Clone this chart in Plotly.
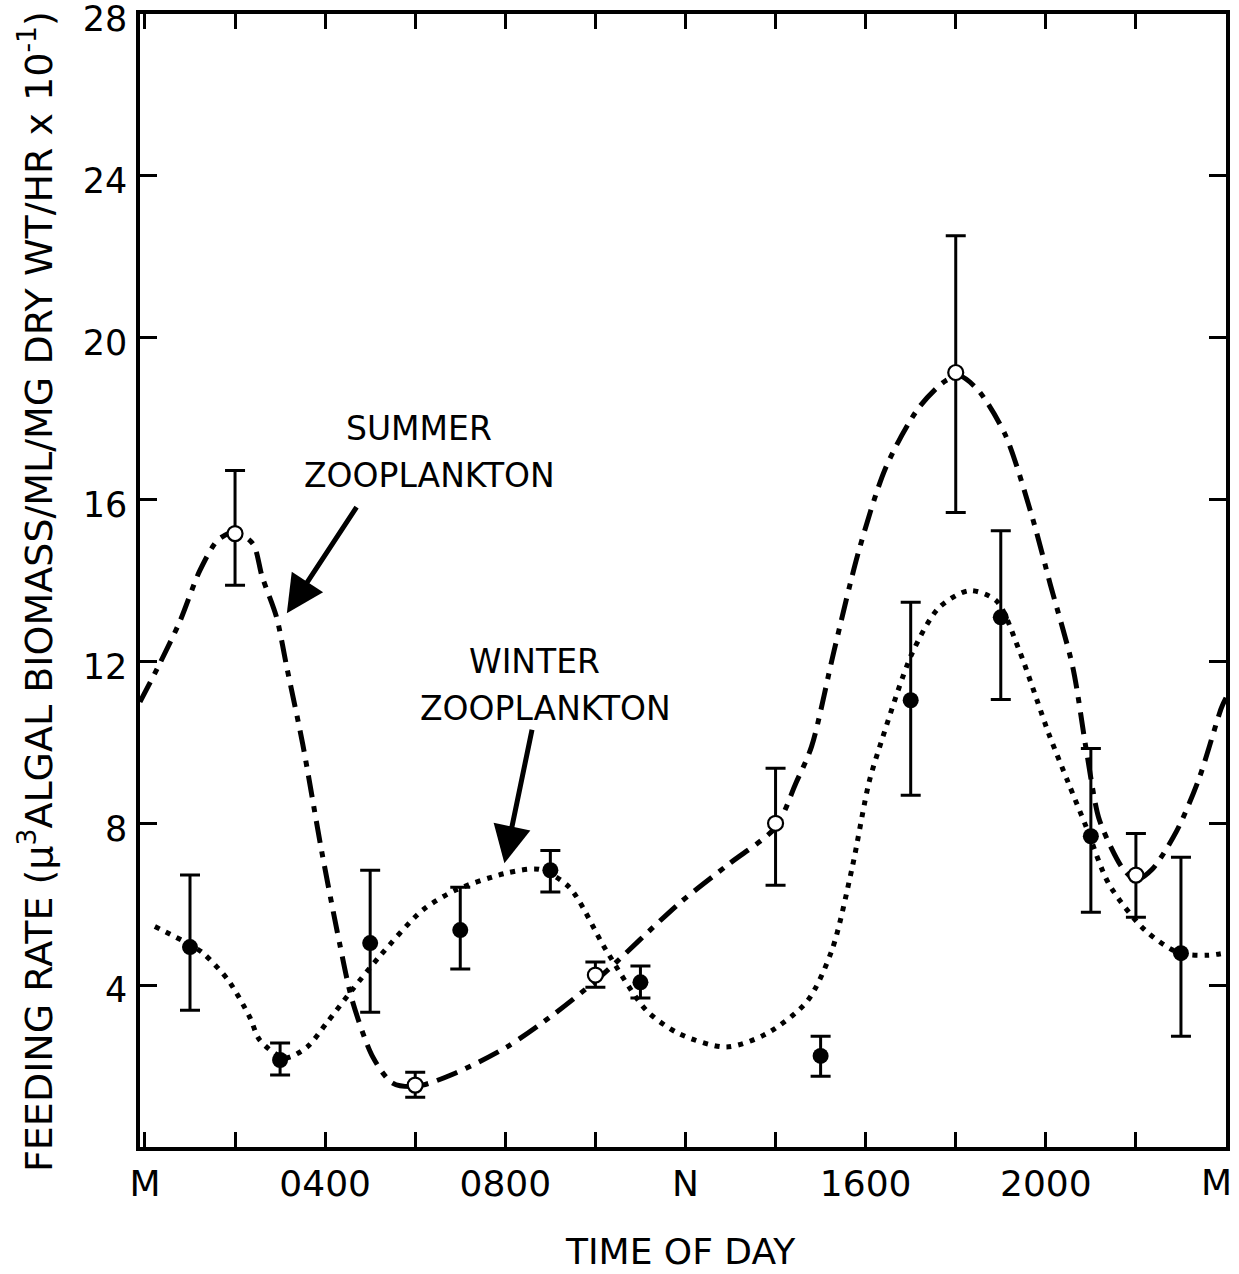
import plotly.graph_objects as go

# Hour of day for each sample
winter_hours = [1, 3, 5, 7, 9, 11, 15, 17, 19, 21, 23]
winter_rate = [4.94, 2.15, 5.04, 5.36, 6.84, 4.07, 2.25, 11.04, 13.09, 7.68, 4.79]
winter_hi = [6.72, 2.57, 6.84, 6.42, 7.33, 4.47, 2.74, 13.46, 15.23, 9.85, 7.16]
winter_lo = [3.38, 1.78, 3.33, 4.40, 6.30, 3.68, 1.75, 8.69, 11.06, 5.80, 2.74]

summer_hours = [2, 6, 10, 14, 18, 22]
summer_rate = [15.16, 1.53, 4.25, 8.00, 19.14, 6.72]
summer_hi = [16.72, 1.85, 4.57, 9.36, 22.52, 7.75]
summer_lo = [13.88, 1.23, 3.95, 6.47, 15.68, 5.68]

# Hand-fitted trend curves
summer_curve_x = [-0.11, 0.33, 0.78, 1.22, 1.62, 2.0, 2.4, 2.6, 2.92, 3.15, 3.5, 3.92, 4.32, 4.6,
                  5.06, 5.5, 6.03, 6.9, 8.03, 9.1, 10.1, 11.86, 12.97, 14.0, 14.45, 14.8, 15.3,
                  15.85, 16.45, 17.18, 17.78, 18.1, 18.5, 19.1, 19.7, 20.1, 20.6, 20.9, 21.17,
                  21.45, 21.7, 22.0, 22.35, 22.9, 23.4, 23.9, 24.0]
summer_curve_y = [11.0, 11.95, 13.0, 14.25, 15.0, 15.2, 14.9, 14.1, 13.1, 11.85, 9.97, 7.33, 5.04, 3.63,
                  2.22, 1.58, 1.5, 1.83, 2.47, 3.3, 4.2, 6.02, 7.0, 7.9, 8.99, 9.9, 12.27,
                  14.74, 16.8, 18.27, 18.94, 19.05, 18.7, 17.6, 15.56, 13.9, 11.85, 9.8, 8.15,
                  7.4, 6.9, 6.6, 6.85, 7.8, 9.1, 10.86, 11.1]

winter_curve_x = [0.22, 1.0, 1.29, 1.85, 2.33, 2.55, 3.1, 3.6, 4.03, 4.6, 5.2, 6.16, 6.9, 8.03, 8.76,
                  9.42, 10.24, 11.13, 11.86, 12.9, 13.8, 14.7, 15.25, 15.7, 16.07, 16.3, 17.03,
                  17.63, 18.3, 18.9, 19.4, 20.07, 20.5, 20.9, 21.4, 22.2, 22.95, 23.6, 24.0]
winter_curve_y = [5.45, 5.0, 4.79, 4.12, 3.2, 2.64, 2.2, 2.47, 3.06, 3.88, 4.7, 5.85, 6.35, 6.77, 6.86,
                  6.42, 4.86, 3.38, 2.8, 2.47, 2.8, 3.6, 4.86, 6.9, 8.99, 9.85, 12.2,
                  13.33, 13.75, 13.5, 12.3, 10.2, 9.0, 7.9, 6.5, 5.36, 4.8, 4.74, 4.8]

# Labelled hours every 4 h; minor ticks every 2 h
x_tickvals = [0, 4, 8, 12, 16, 20]
x_ticktext = ["M", "0400", "0800", "N", "1600", "2000"]
x_end_label = "M"
y_tickvals = [4, 8, 12, 16, 20, 24, 28]

FONT = "DejaVu Sans"
INK = "black"

fig = go.Figure()

fig.add_trace(go.Scatter(
    x=summer_curve_x, y=summer_curve_y, mode="lines",
    line=dict(color=INK, width=5, dash="22px,9px,6px,9px", shape="spline", smoothing=0.8),
    hoverinfo="skip", showlegend=False))

fig.add_trace(go.Scatter(
    x=winter_curve_x, y=winter_curve_y, mode="lines",
    line=dict(color=INK, width=5, dash="5px,7px", shape="spline", smoothing=0.8),
    hoverinfo="skip", showlegend=False))

fig.add_trace(go.Scatter(
    x=winter_hours, y=winter_rate, mode="markers",
    marker=dict(symbol="circle", size=16, color=INK, line=dict(width=0)),
    error_y=dict(type="data", symmetric=False,
                 array=[h - v for h, v in zip(winter_hi, winter_rate)],
                 arrayminus=[v - l for v, l in zip(winter_rate, winter_lo)],
                 color=INK, thickness=3, width=10),
    showlegend=False))

fig.add_trace(go.Scatter(
    x=summer_hours, y=summer_rate, mode="markers",
    marker=dict(symbol="circle", size=15, color="white", line=dict(width=2.2, color=INK)),
    error_y=dict(type="data", symmetric=False,
                 array=[h - v for h, v in zip(summer_hi, summer_rate)],
                 arrayminus=[v - l for v, l in zip(summer_rate, summer_lo)],
                 color=INK, thickness=3, width=10),
    showlegend=False))

label_font = dict(family=FONT, size=33, color=INK)
annotations = [
    dict(x=6.08, y=17.75, text="SUMMER", showarrow=False, font=label_font),
    dict(x=6.32, y=16.6, text="ZOOPLANKTON", showarrow=False, font=label_font),
    dict(x=8.65, y=12.0, text="WINTER", showarrow=False, font=label_font),
    dict(x=8.89, y=10.84, text="ZOOPLANKTON", showarrow=False, font=label_font),
    # pointer arrows
    dict(x=3.15, y=13.19, ax=4.72, ay=15.85, axref="x", ayref="y", text="",
         showarrow=True, arrowhead=2, arrowsize=1.5, arrowwidth=5, arrowcolor=INK, standoff=0),
    dict(x=7.98, y=7.01, ax=8.6, ay=10.35, axref="x", ayref="y", text="",
         showarrow=True, arrowhead=2, arrowsize=1.5, arrowwidth=5, arrowcolor=INK, standoff=0),
    # closing midnight label, set just inside the right edge
    dict(x=23.78, xref="x", yref="paper", y=-(1182 - 1147) / 1133, text=x_end_label,
         showarrow=False, xanchor="center", yanchor="middle",
         font=dict(family=FONT, size=36, color=INK)),
    # axis titles
    dict(xref="paper", yref="paper", x=(36 - 140) / 1086, y=(1147 - 592) / 1133,
         text="FEEDING RATE (\u03bc<sup>3</sup>ALGAL BIOMASS/ML/MG DRY WT/HR x 10<sup>-1</sup>)",
         textangle=-90, showarrow=False, xanchor="center", yanchor="middle",
         font=dict(family=FONT, size=38, color=INK)),
    dict(xref="paper", yref="paper", x=(680 - 140) / 1086, y=-(1252 - 1147) / 1133,
         text="TIME OF DAY", showarrow=False, xanchor="center", yanchor="middle",
         font=dict(family=FONT, size=36, color=INK)),
]

fig.update_layout(
    width=1239, height=1274,
    margin=dict(l=140, r=13, t=14, b=127, autoexpand=False),
    paper_bgcolor="white", plot_bgcolor="white",
    annotations=annotations,
    showlegend=False,
)

fig.update_xaxes(
    range=[-0.11, 24.0], tickvals=x_tickvals, ticktext=x_ticktext,
    ticks="inside", ticklen=15, tickwidth=3, tickcolor=INK,
    minor=dict(dtick=2, tick0=0, ticks="inside", ticklen=15, tickwidth=3, tickcolor=INK, showgrid=False),
    showline=True, linewidth=3.5, linecolor=INK, mirror="ticks",
    showgrid=False, zeroline=False, ticklabelstandoff=2,
    automargin=False, ticklabeloverflow="allow",
    tickfont=dict(family=FONT, size=36, color=INK))

fig.update_yaxes(
    range=[0, 28], tickvals=y_tickvals,
    ticks="inside", ticklen=17, tickwidth=3, tickcolor=INK,
    showline=True, linewidth=3.5, linecolor=INK, mirror="ticks",
    showgrid=False, zeroline=False, ticklabelstandoff=2, ticklabelshift=5,
    automargin=False, ticklabeloverflow="allow",
    tickfont=dict(family=FONT, size=35, color=INK))

fig.write_html("out.html")
